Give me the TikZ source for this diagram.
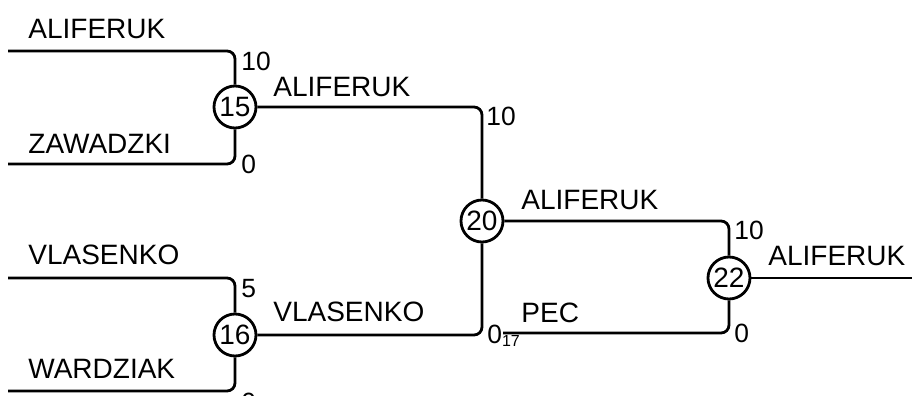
\documentclass[tikz,border=0pt]{standalone}
\usepackage{fontspec}
\setmainfont{Liberation Sans}

\begin{document}
\begin{tikzpicture}[x=0.5pt,y=-0.5pt,line width=1.4pt,
    match/.style={draw,circle,minimum size=21pt,inner sep=0pt,font=\fontsize{14}{14}\selectfont},
    player/.style={anchor=base west,inner sep=0pt,font=\fontsize{14}{15}\selectfont},
    score/.style={anchor=base west,inner sep=0pt,font=\fontsize{13.2}{14}\selectfont},
    link/.style={rounded corners=4pt}]
    \useasboundingbox (0,0) rectangle (912,396);

    % matches
    \node[match] (m15) at (235,107) {15};
    \node[match] (m16) at (235,335) {16};
    \node[match] (m20) at (482,221) {20};
    \node[match] (m22) at (729,278) {22};

    % free ends
    \coordinate (p1) at (8,51);
    \coordinate (p2) at (8,164);
    \coordinate (p3) at (8,278);
    \coordinate (p4) at (8,391);
    \coordinate (p17) at (503,333);
    \coordinate (win) at (912,278);

    \draw[link] (p1) -| (m15);
    \draw[link] (p2) -| (m15);
    \draw[link] (p3) -| (m16);
    \draw[link] (p4) -| (m16);
    \draw[link] (m15) -| (m20);
    \draw[link] (m16) -| (m20);
    \draw[link] (m20) -| (m22);
    \draw[link] (p17) -| (m22);
    \draw (m22) -- (win);

    % players
    \node[player] (n1) at (27,39) {ALIFERUK};
    \node[player] (n2) at (27,153) {ZAWADZKI};
    \node[player] (n3) at (27,264) {VLASENKO};
    \node[player] (n4) at (27,378) {WARDZIAK};
    \node[player] (n15) at (272,97) {ALIFERUK};
    \node[player] (n16) at (272,321) {VLASENKO};
    \node[player] (n20) at (520,209) {ALIFERUK};
    \node[player] (n17) at (520,322) {PEC};
    \node[player] (n22) at (767,265) {ALIFERUK};

    % scores
    \node[score] (s1) at (240,70) {10};
    \node[score] (s2) at (240,173) {0};
    \node[score] (s3) at (240,297) {5};
    \node[score] (s4) at (240,411) {0};
    \node[score] (s15) at (485,125) {10};
    \node[score] (s16) at (486,343) {0\textsubscript{\fontsize{8}{8}\selectfont 17}};
    \node[score] (s20) at (733,239) {10};
    \node[score] (s17) at (733,342) {0};
\end{tikzpicture}
\end{document}
